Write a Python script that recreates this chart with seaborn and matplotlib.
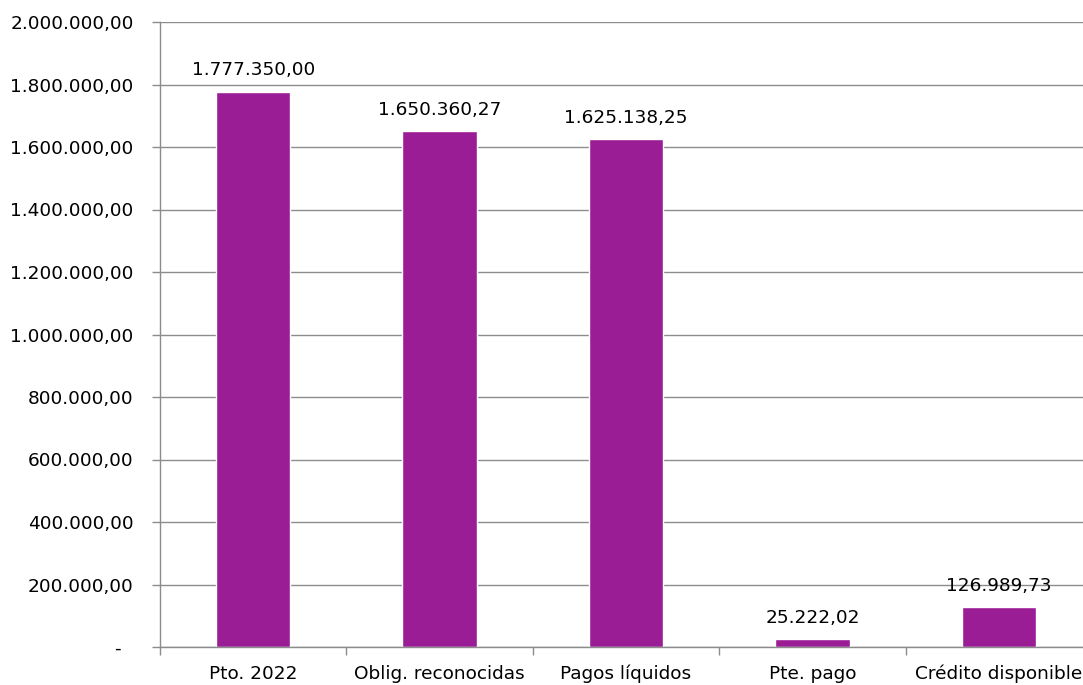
import matplotlib
matplotlib.use("Agg")
import matplotlib.pyplot as plt
import seaborn as sns
import pandas as pd
from matplotlib.ticker import FuncFormatter, MultipleLocator, FixedLocator

categories = ["Pto. 2022", "Oblig. reconocidas", "Pagos líquidos", "Pte. pago", "Crédito disponible"]
values = [1777350.00, 1650360.27, 1625138.25, 25222.02, 126989.73]

sns.set_theme(style="white")
plt.rcParams['font.family'] = ['DejaVu Sans']

BAR = "#9B1D96"
GRID = "#8C8C8C"
FS = 13.3

def es_fmt(v, pos=None):
    if abs(v) < 1e-9:
        return "-  "
    s = f"{v:,.2f}"
    return s.replace(",", "X").replace(".", ",").replace("X", ".")

df = pd.DataFrame({"cat": categories, "val": values})

fig = plt.figure(figsize=(10.83, 6.85), dpi=100)
ax = fig.add_axes([160/1083, 1 - 647/685, (1092 - 160)/1083, (647 - 22)/685])

sns.barplot(data=df, x="cat", y="val", color=BAR, saturation=1, width=0.40, ax=ax)

ax.set_ylim(0, 2000000)
ax.set_xlim(-0.5, len(categories) - 0.5)
ax.yaxis.set_major_locator(MultipleLocator(200000))
ax.yaxis.set_major_formatter(FuncFormatter(es_fmt))
ax.set_xlabel("")
ax.set_ylabel("")

ax.grid(axis="y", color=GRID, linewidth=1)
ax.set_axisbelow(True)
for s in ["top", "right"]:
    ax.spines[s].set_visible(False)
for s in ["left", "bottom"]:
    ax.spines[s].set_color(GRID)
    ax.spines[s].set_linewidth(1)

ax.tick_params(axis="y", which="major", left=True, length=6, color=GRID, width=1,
               labelsize=FS, pad=13, labelcolor="black")
ax.tick_params(axis="x", which="major", bottom=False, length=0, labelsize=FS, pad=23,
               labelcolor="black")
for lbl in ax.get_xticklabels():
    lbl.set_verticalalignment("baseline")
ax.xaxis.set_minor_locator(FixedLocator([i - 0.5 for i in range(len(categories) + 1)]))
ax.tick_params(axis="x", which="minor", bottom=True, length=6, color=GRID, width=1)

for cont in ax.containers:
    ax.bar_label(cont, labels=[es_fmt(v) for v in values], padding=9, fontsize=FS, color="black")

fig.savefig("out.png", dpi=100)
